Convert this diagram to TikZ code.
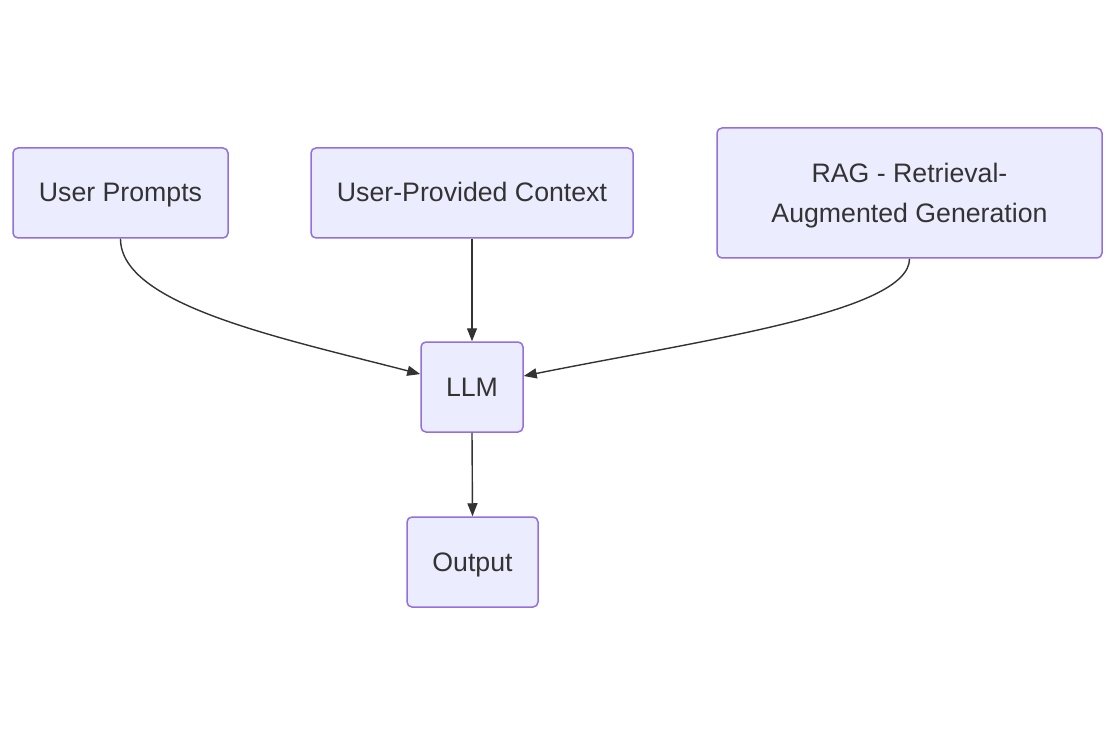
\documentclass[tikz,border=0pt]{standalone}
\usepackage{fontspec}
\setmainfont{Liberation Sans}
\usetikzlibrary{arrows.meta}
\definecolor{nodefill}{HTML}{ECECFF}
\definecolor{nodeline}{HTML}{9370DB}
\definecolor{txt}{HTML}{333333}
\begin{document}
\begin{tikzpicture}[x=1pt,y=-1pt,
  box/.style={draw=nodeline,fill=nodefill,line width=1.5pt,rounded corners=5pt,
    text=txt,font=\fontsize{26.7}{40}\selectfont,align=center,inner sep=0pt},
  oneline/.style={text height=24pt,text depth=6pt},
  conn/.style={draw=txt,line width=1.4pt,-{Triangle[length=13pt,width=10pt]}}]
\useasboundingbox[fill=white] (0,0) rectangle (1116,735);
\node[box,oneline,minimum width=215pt,minimum height=90pt] (up) at (120.5,193) {User Prompts};
\node[box,oneline,minimum width=322pt,minimum height=90pt] (ctx) at (472,193) {User-Provided Context};
\node[box,minimum width=385pt,minimum height=130pt] (rag) at (909.5,193) {\rule{0pt}{24pt}RAG - Retrieval-\\Augmented Generation};
\node[box,oneline,minimum width=102pt,minimum height=90pt] (llm) at (472,387) {LLM};
\node[box,oneline,minimum width=131pt,minimum height=90pt] (out) at (472.5,562) {Output};
\draw[conn] (up.south) .. controls (120.5,305) and (281,338) .. (llm.166.8);
\draw[conn] (ctx.south) -- (llm.north);
\draw[conn] (rag.south) .. controls (909.5,312) and (703,340) .. (llm.12.8);
\draw[conn] (llm.south) -- (out.north);
\end{tikzpicture}
\end{document}
